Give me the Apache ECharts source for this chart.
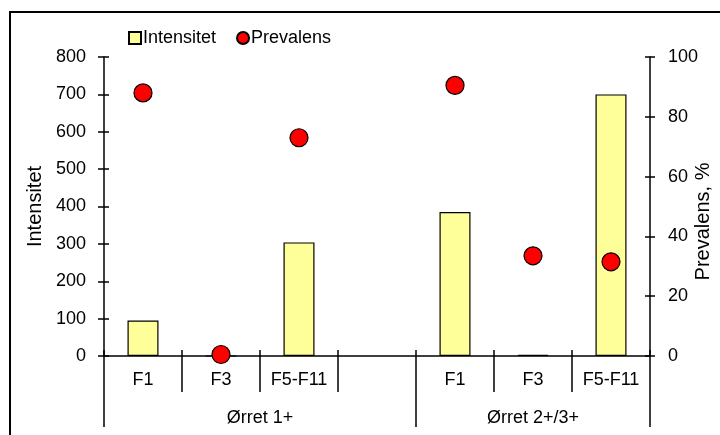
<!DOCTYPE html>
<html>
<head>
<meta charset="utf-8">
<script src="https://cdn.jsdelivr.net/npm/echarts@6/dist/echarts.min.js"></script>
<style>html,body{margin:0;padding:0;background:#fff}#c{width:720px;height:435px}</style>
</head>
<body>
<div id="c"></div>
<script>
const categories = ['F1', 'F3', 'F5-F11', '', 'F1', 'F3', 'F5-F11'];
const intensitet = [95, 0, 304, null, 385, 3, 700];
const prevalens = [88, 0.5, 73, null, 90.5, 33.5, 31.5];
const groups = ['Ørret 1+', 'Ørret 2+/3+'];
const groupSpans = [4, 3];
const leftTicks = [0, 100, 200, 300, 400, 500, 600, 700, 800];
const rightTicks = [0, 20, 40, 60, 80, 100];

const font = "'Liberation Sans', Arial, sans-serif";
const fs = 18;
const bounds = [0];
groupSpans.forEach(s => bounds.push(bounds[bounds.length - 1] + s));
const groupCenters = groupSpans.map((s, i) => bounds[i] + s / 2);

const chart = echarts.init(document.getElementById('c'), null, {renderer: 'canvas'});
const black = {color: '#000', width: 1.5};
chart.setOption({
  animation: false,
  backgroundColor: '#fff',
  textStyle: {fontFamily: font},
  graphic: [{
    type: 'rect', silent: true,
    shape: {x: 10, y: 12, width: 740, height: 460},
    style: {fill: null, stroke: '#000', lineWidth: 2}
  }],
  legend: {
    left: 123, top: 24,
    itemWidth: 12, itemHeight: 12, itemGap: 20,
    textStyle: {fontFamily: font, fontSize: fs, color: '#000', padding: [0, 0, 0, -3]},
    data: [{name: 'Intensitet', icon: 'rect'}, {name: 'Prevalens', icon: 'circle'}]
  },
  grid: {left: 104, right: 70, top: 57, bottom: 79, containLabel: false, outerBoundsMode: 'none'},
  xAxis: [{
    type: 'category', data: categories, position: 'bottom',
    axisLine: {lineStyle: black},
    axisTick: {show: true, alignWithLabel: false, length: 36, lineStyle: black},
    axisLabel: {margin: 15, color: '#000', fontSize: fs, fontFamily: font},
    splitLine: {show: false}
  }, {
    type: 'category', data: categories, position: 'bottom',
    axisLine: {show: false},
    axisTick: {show: true, inside: true, alignWithLabel: false, length: 6, lineStyle: black},
    axisLabel: {show: false},
    splitLine: {show: false}
  }, {
    type: 'value', min: 0, max: bounds[bounds.length - 1], position: 'bottom',
    axisLine: {show: false},
    axisTick: {show: true, length: 71, customValues: bounds, lineStyle: black},
    axisLabel: {
      margin: 53, color: '#000', fontSize: fs, fontFamily: font,
      customValues: groupCenters,
      formatter: v => { const i = groupCenters.indexOf(v); return i >= 0 ? groups[i] : ''; }
    },
    splitLine: {show: false}
  }],
  yAxis: [{
    type: 'value', position: 'left', min: leftTicks[0], max: leftTicks[leftTicks.length - 1],
    interval: leftTicks[1] - leftTicks[0],
    name: 'Intensitet', nameLocation: 'middle', nameGap: 59, nameMoveOverlap: false,
    nameTextStyle: {fontSize: 20, color: '#000', fontFamily: font},
    axisLine: {show: true, lineStyle: black},
    axisTick: {show: true, length: 6, lineStyle: black},
    axisLabel: {margin: 18, color: '#000', fontSize: fs, fontFamily: font},
    splitLine: {show: false}
  }, {
    type: 'value', position: 'right', min: rightTicks[0], max: rightTicks[rightTicks.length - 1],
    interval: rightTicks[1] - rightTicks[0],
    name: 'Prevalens, %', nameLocation: 'middle', nameGap: 43, nameMoveOverlap: false,
    nameTextStyle: {fontSize: 20, color: '#000', fontFamily: font, padding: [0, 30, 0, 0]},
    axisLine: {show: true, lineStyle: black},
    axisTick: {show: true, length: 5, lineStyle: black},
    axisLabel: {margin: 18, color: '#000', fontSize: fs, fontFamily: font},
    splitLine: {show: false}
  }, {
    type: 'value', position: 'left', min: leftTicks[0], max: leftTicks[leftTicks.length - 1],
    interval: leftTicks[1] - leftTicks[0],
    axisLine: {show: false}, axisLabel: {show: false}, splitLine: {show: false},
    axisTick: {show: true, inside: true, length: 5, lineStyle: black}
  }, {
    type: 'value', position: 'right', min: rightTicks[0], max: rightTicks[rightTicks.length - 1],
    interval: rightTicks[1] - rightTicks[0],
    axisLine: {show: false}, axisLabel: {show: false}, splitLine: {show: false},
    axisTick: {show: true, inside: true, length: 5, lineStyle: black}
  }],
  series: [{
    name: 'Intensitet', type: 'bar', xAxisIndex: 0, yAxisIndex: 0,
    data: intensitet, barWidth: 31,
    itemStyle: {color: '#FFFF99', borderColor: '#000', borderWidth: 1.2}
  }, {
    name: 'Prevalens', type: 'scatter', xAxisIndex: 0, yAxisIndex: 1,
    data: prevalens, symbol: 'circle', symbolSize: 18, z: 5,
    itemStyle: {color: '#FF0000', borderColor: '#000', borderWidth: 1.2, opacity: 1}
  }]
});
</script>
</body>
</html>
